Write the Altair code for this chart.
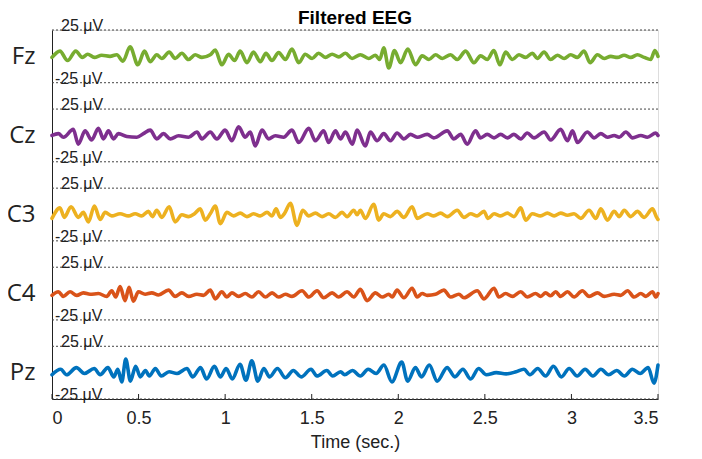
import altair as alt
import pandas as pd

channels = ["Fz", "Cz", "C3", "C4", "Pz"]
colors = ["#77AC30", "#7E2F8E", "#EDB120", "#D95319", "#0072BD"]
chart_title = "Filtered EEG"

fz_t = [0.0, 0.046, 0.09, 0.137, 0.175, 0.206, 0.245, 0.287, 0.335, 0.374, 0.41, 0.451, 0.496, 0.534, 0.567,
        0.605, 0.634, 0.677, 0.711, 0.75, 0.788, 0.827, 0.866, 0.914, 0.943, 0.981, 1.02, 1.054, 1.087, 1.126,
        1.164, 1.203, 1.236, 1.27, 1.309, 1.348, 1.386, 1.425, 1.463, 1.502, 1.54, 1.579, 1.618, 1.656, 1.695,
        1.733, 1.781, 1.829, 1.868, 1.893, 1.916, 1.945, 1.978, 2.013, 2.055, 2.1, 2.138, 2.177, 2.215, 2.254,
        2.302, 2.341, 2.389, 2.437, 2.475, 2.514, 2.552, 2.587, 2.62, 2.659, 2.697, 2.736, 2.774, 2.803, 2.842,
        2.88, 2.919, 2.958, 2.996, 3.034, 3.073, 3.108, 3.15, 3.189, 3.227, 3.266, 3.304, 3.343, 3.381, 3.42,
        3.458, 3.482, 3.5]
fz_v = [-1, 5, -4, 5, -1, 2, -1, 1, 0, 1.5, -4.5, 9, -8, 5, -5,
        1.5, -2, 4, -2, 3, -3, 1.5, -1, 1.5, 6, -8, 2, -4, 5, -6,
        4, -5, 3, -4, 3.5, -3, 7, -6, 2, -2, 3, -1, 2, -0.5, 3,
        -2, 1.5, -2, 1, -3, 8, -11, 5.5, -6, 7, -8, 0.5, -3, 1.5, -2,
        1.5, -3, 5, -6, 0.5, -3, 5.5, -8, 4, -3, 1.5, -1, 3, -2, 4,
        -3, 1, -2, 1.5, -1, 5, -6, 1.5, -2, 0, -1, 1, -1, 1.5, -1,
        -3, 5.5, 0]

cz_t = [0.0, 0.037, 0.066, 0.123, 0.152, 0.191, 0.229, 0.268, 0.297, 0.326, 0.355, 0.384, 0.432, 0.49, 0.528,
        0.567, 0.605, 0.644, 0.683, 0.731, 0.789, 0.837, 0.866, 0.914, 0.952, 1.0, 1.039, 1.078, 1.116, 1.145,
        1.174, 1.213, 1.251, 1.29, 1.338, 1.386, 1.425, 1.483, 1.521, 1.569, 1.598, 1.637, 1.666, 1.695, 1.735,
        1.762, 1.81, 1.839, 1.878, 1.916, 1.955, 1.993, 2.032, 2.07, 2.109, 2.167, 2.205, 2.283, 2.321, 2.36,
        2.398, 2.446, 2.475, 2.514, 2.553, 2.591, 2.63, 2.668, 2.707, 2.745, 2.784, 2.842, 2.88, 2.938, 2.977,
        3.006, 3.035, 3.092, 3.131, 3.169, 3.208, 3.247, 3.276, 3.314, 3.353, 3.401, 3.439, 3.487, 3.5]
cz_v = [0, 1.7, -1.7, 5.7, -8.3, 4.3, -4.3, 6.7, -3.3, 4.3, -3.3, 1.7, -1, -1.7, 1.7,
        5, -3.3, 1.7, -3.3, -0.3, -1.7, 3.3, -3.3, 3.3, -3.3, 5, -5, 8.3, -1.7, 3.3,
        -10, 5, -3.3, -0.3, -1.7, 5, -6.7, 6.7, -5, 4.3, -6.7, 4.3, -3.3, 3.3, -8.3,
        5, -10, 3.3, -5, 1.7, -5, 2.3, -3.3, 1, -1.7, 1, -2.3, 4.3, -3.3, 1,
        -8.3, 4.3, -2.3, 1, -2.3, 1, -2.3, 1, -3.3, 2.3, -2.3, 3.3, -4.3, 5.7, -5,
        4.3, -6.7, 3.3, -2.3, 1.7, -1.7, 0, -1.7, 3.3, -2.3, 0, -1.7, 2.3, 0]

c3_t = [0.0, 0.046, 0.071, 0.11, 0.152, 0.181, 0.21, 0.245, 0.278, 0.307, 0.345, 0.393, 0.441, 0.48, 0.519,
        0.557, 0.58, 0.605, 0.634, 0.677, 0.711, 0.75, 0.789, 0.823, 0.856, 0.885, 0.914, 0.943, 0.972, 1.01,
        1.049, 1.087, 1.126, 1.164, 1.203, 1.242, 1.271, 1.294, 1.319, 1.344, 1.377, 1.415, 1.448, 1.483, 1.521,
        1.56, 1.598, 1.637, 1.675, 1.704, 1.743, 1.762, 1.781, 1.81, 1.858, 1.887, 1.916, 1.955, 1.993, 2.032,
        2.08, 2.109, 2.167, 2.205, 2.244, 2.283, 2.34, 2.379, 2.418, 2.456, 2.495, 2.518, 2.553, 2.591, 2.63,
        2.668, 2.707, 2.736, 2.774, 2.822, 2.861, 2.9, 2.938, 2.977, 3.015, 3.054, 3.102, 3.141, 3.17, 3.208,
        3.247, 3.276, 3.305, 3.343, 3.381, 3.42, 3.468, 3.49, 3.5]
c3_v = [-3.7, 6.3, -2.7, 7.3, -2.7, 2, -7, 8, -4.7, 2, -1.3, 0.7, -1.3, 0.7, -1.3,
        3, -2, 4, -2.7, 7.3, -7, -0.3, -2, 0.7, 5.3, -5.3, 0.7, 8, -8.7, 2,
        -1.3, 1.3, -2, 0.7, -1.3, 2, -1.3, 5.3, -2.7, 1.3, 10.7, -10.3, 4, -1.3, 1.3,
        -2, 0.7, -2.7, 2, -2, 4, -0.3, 4, -3.7, 9.7, -5.3, 0.7, -2, 3, -2.7,
        7.3, -3.7, 0.7, -1.3, 1.3, -2, 4, -2.7, 0.7, -1.3, 3, -3.7, 0.7, -1.3, 1.3,
        -2, 6.3, -5.3, 0.7, -1.3, 1.3, -1.3, 1.3, -0.7, 0.7, -3.7, 4, -3.7, 5.3, -5.3,
        3, -2, 4, -2, 3, -2.7, 5.3, -2, -4.7]

c4_t = [0.0, 0.037, 0.066, 0.104, 0.143, 0.181, 0.22, 0.268, 0.316, 0.345, 0.368, 0.393, 0.422, 0.445, 0.47,
        0.499, 0.538, 0.576, 0.615, 0.673, 0.711, 0.75, 0.789, 0.837, 0.875, 0.914, 0.943, 0.981, 1.01, 1.039,
        1.078, 1.116, 1.155, 1.193, 1.232, 1.271, 1.309, 1.348, 1.386, 1.444, 1.483, 1.531, 1.569, 1.618, 1.656,
        1.704, 1.743, 1.781, 1.82, 1.868, 1.907, 1.945, 1.965, 1.993, 2.032, 2.08, 2.109, 2.138, 2.167, 2.215,
        2.263, 2.302, 2.35, 2.379, 2.456, 2.495, 2.553, 2.581, 2.62, 2.659, 2.707, 2.745, 2.793, 2.822, 2.851,
        2.88, 2.909, 2.938, 2.977, 3.015, 3.063, 3.102, 3.15, 3.189, 3.247, 3.285, 3.324, 3.362, 3.401, 3.43,
        3.468, 3.488, 3.5]
c4_v = [-1.7, 1.7, -2.7, 1.7, -1.7, 0.7, -0.7, 0, -2.7, 2.7, -3.3, 6.7, -6.7, 6, -7.3,
        1.7, -0.7, 0.7, -1.3, 3.3, -2.7, 0.7, -2.7, -0.7, -1.7, 3.3, -5, 1.7, -3.3, 0.7,
        -2.7, 0, -3.3, 1.7, -3.3, 0.7, -3.3, -0.7, -2.7, 2.7, -3.3, 2.7, -4, 0.7, -3.3,
        1.7, -3.3, 4, -6.7, 0.7, -3.3, -0.7, -3.3, 3.3, -4, 5, -3.3, 0, -1.7, -0.7,
        3.3, -3.3, -0.7, -4, 2.7, -5, 5, -3.3, 0, -2.7, 1.7, -3.3, 0, -2.7, 0.7,
        -2, 1.7, -2.7, 1.7, -3.3, 2.7, -2.7, 0.7, -2.7, -0.7, -1.7, 2.7, -3.3, 0, -2.7,
        1.7, -3.3, 0]

pz_t = [0.0, 0.05, 0.084, 0.141, 0.187, 0.244, 0.278, 0.323, 0.357, 0.38, 0.403, 0.426, 0.453, 0.483, 0.51,
        0.54, 0.562, 0.597, 0.631, 0.676, 0.722, 0.779, 0.813, 0.858, 0.893, 0.938, 0.972, 1.006, 1.041, 1.086,
        1.12, 1.154, 1.189, 1.223, 1.257, 1.302, 1.348, 1.394, 1.439, 1.496, 1.53, 1.587, 1.621, 1.667, 1.69,
        1.735, 1.781, 1.826, 1.872, 1.917, 1.963, 2.02, 2.054, 2.099, 2.134, 2.179, 2.225, 2.282, 2.327, 2.373,
        2.418, 2.464, 2.509, 2.566, 2.623, 2.68, 2.726, 2.76, 2.805, 2.851, 2.896, 2.942, 2.987, 3.033, 3.079,
        3.124, 3.17, 3.215, 3.261, 3.306, 3.352, 3.397, 3.443, 3.477, 3.5]
pz_v = [-2, 3.2, -2, 4.8, -0.8, 4, -2, 4.8, -4, 3.2, -8.8, 12.8, -8, 6, -4,
        2, -3.2, 4, -3.2, 0.8, -0.8, 4, -4, 4.8, -6, 6, -4, 4, -6, 8,
        -7.2, 11.2, -8, 4, -4, 4, -4.8, 2, -4, 3.2, -3.2, 2, -3.2, 0.8, -2,
        2, -3.2, 3.2, -0.8, 7.2, -8.8, 10, -8, 4.8, -4, 7.2, -8, 4.8, -4, 3.2,
        -6, 4, -2, 0, -1.2, 0.8, 3.2, -2, 4, -3.2, 6, -4, 4, -3.2, 3.2,
        -3.2, 3.2, -2, 2, -3.2, 3.2, -0.8, 4.8, -10, 7.2]

x_ticks = [0, 0.5, 1, 1.5, 2, 2.5, 3, 3.5]
ref_level = 25

series = {"Fz": (fz_t, fz_v), "Cz": (cz_t, cz_v), "C3": (c3_t, c3_v),
          "C4": (c4_t, c4_v), "Pz": (pz_t, pz_v)}

spacing = 75
offsets = {ch: (len(channels) - 1 - i) * spacing for i, ch in enumerate(channels)}

rows = []
for ch in channels:
    ts, vs = series[ch]
    for t, v in zip(ts, vs):
        rows.append({"channel": ch, "t": t, "y": offsets[ch] + v})
df = pd.DataFrame(rows)

ref_rows = []
for ch in channels:
    ref_rows.append({"y": offsets[ch] + ref_level, "label": f"{ref_level} μV", "kind": "top"})
    ref_rows.append({"y": offsets[ch] - ref_level, "label": f"-{ref_level} μV", "kind": "bottom"})
refs = pd.DataFrame(ref_rows)
ticks_df = pd.DataFrame({"t": x_ticks})
title_df = pd.DataFrame({"title": [chart_title]})

W, H = 606, 369
ymin = -ref_level
ymax = offsets[channels[0]] + ref_level

label_expr = " : ".join(
    f"datum.value == {offsets[ch]} ? '{ch}'" for ch in channels) + " : ''"

xscale = alt.Scale(domain=[0, 3.5], nice=False, zero=False)
yscale = alt.Scale(domain=[ymin, ymax], nice=False, zero=False)

lines = alt.Chart(df).mark_line(strokeWidth=3.6, interpolate="monotone", strokeJoin="round",
                                strokeCap="round").encode(
    x=alt.X("t:Q", scale=xscale,
            axis=alt.Axis(values=x_ticks, format="~g", title="Time (sec.)", tickSize=0,
                          labelFont="Liberation Sans Narrow, Liberation Sans", labelFontSize=18,
                          labelColor="#222", labelPadding=10, titleFont="Liberation Sans",
                          titleFontSize=18, titleFontWeight="normal", titleColor="#222",
                          titlePadding=6, domainColor="#222", grid=False)),
    y=alt.Y("y:Q", scale=yscale,
            axis=alt.Axis(values=[offsets[c] for c in channels], labelExpr=label_expr, tickSize=0,
                          title=None, labelFont="Open Sans", labelFontSize=24, labelColor="#222",
                          labelPadding=17, domainColor="#222", grid=False)),
    color=alt.Color("channel:N", scale=alt.Scale(domain=channels, range=colors), legend=None),
    detail="channel:N",
)

dotted = alt.Chart(refs).mark_rule(strokeDash=[2, 2], color="#444", strokeWidth=1).encode(
    y=alt.Y("y:Q", scale=yscale), x=alt.value(0), x2=alt.value(W + 2))

top_labels = alt.Chart(refs).transform_filter("datum.kind == 'top'").mark_text(
    align="left", baseline="alphabetic", dx=0, dy=1, font="Liberation Sans", fontSize=16,
    color="#222").encode(y=alt.Y("y:Q", scale=yscale), x=alt.value(9), text="label:N")

bottom_labels = alt.Chart(refs).transform_filter("datum.kind == 'bottom'").mark_text(
    align="left", baseline="alphabetic", dx=0, dy=1, font="Liberation Sans", fontSize=16,
    color="#222").encode(y=alt.Y("y:Q", scale=yscale), x=alt.value(3), text="label:N")

tick_marks = alt.Chart(ticks_df).mark_rule(color="#222", strokeWidth=1).encode(
    x=alt.X("t:Q", scale=xscale), y=alt.value(H), y2=alt.value(H - 5))

title_mark = alt.Chart(title_df).mark_text(
    align="center", baseline="alphabetic", font="Liberation Sans", fontSize=19, fontWeight="bold",
    color="#000").encode(x=alt.value(W / 2), y=alt.value(-6), text="title:N")

chart = alt.layer(dotted, top_labels, bottom_labels, lines, tick_marks, title_mark).properties(
    width=W, height=H,
    autosize=alt.AutoSizeParams(type="none"),
    padding={"left": 44, "top": 22, "right": 30, "bottom": 55},
).configure_view(stroke=None).configure(background="white")

chart.save("out.html", embed_options={"renderer": "svg", "actions": False})
